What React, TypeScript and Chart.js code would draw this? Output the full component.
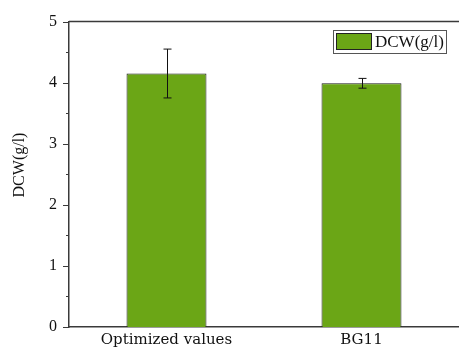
import React, { useEffect, useRef } from "react";
import { Chart, registerables } from "chart.js";

Chart.register(...registerables);

const categories = ["Optimized values", "BG11"];
const dcwValues = [4.15, 3.99];
const dcwErrors = [0.4, 0.08];
const seriesLabel = "DCW(g/l)";
const yTitle = "DCW(g/l)";

const BAR_GREEN = "#6ba616";
const AXIS_COLOR = "#3a3a3a";
const SERIF = "'DejaVu Serif', 'Liberation Serif', serif";
const NUM_SERIF = "'Liberation Serif', serif";

// Error bars, axis ticks (major + minor), top frame line, y title and boxed legend
const decorations = {
  id: "decorations",
  afterDatasetsDraw(chart: any) {
    const { ctx, chartArea } = chart;
    const x = chart.scales.x;
    const y = chart.scales.y;
    ctx.save();

    // error bars
    ctx.strokeStyle = "#111";
    ctx.lineWidth = 1;
    dcwValues.forEach((v, i) => {
      const cx = Math.round(x.getPixelForValue(i)) + 0.5;
      const top = y.getPixelForValue(v + dcwErrors[i]);
      const bot = y.getPixelForValue(v - dcwErrors[i]);
      ctx.beginPath();
      ctx.moveTo(cx, top);
      ctx.lineTo(cx, bot);
      ctx.moveTo(cx - 4, top);
      ctx.lineTo(cx + 4, top);
      ctx.moveTo(cx - 4, bot);
      ctx.lineTo(cx + 4, bot);
      ctx.stroke();
    });

    // top frame line
    ctx.strokeStyle = AXIS_COLOR;
    ctx.lineWidth = 1.5;
    ctx.beginPath();
    ctx.moveTo(chartArea.left, chartArea.top);
    ctx.lineTo(chartArea.right, chartArea.top);
    ctx.stroke();

    // y ticks: majors every 1, minors every 0.5
    ctx.lineWidth = 1;
    for (let t = 0; t <= 5.0001; t += 0.5) {
      const py = Math.round(y.getPixelForValue(t)) + 0.5;
      const major = Math.abs(t - Math.round(t)) < 1e-6;
      ctx.beginPath();
      ctx.moveTo(chartArea.left - (major ? 6 : 3), py);
      ctx.lineTo(chartArea.left, py);
      ctx.stroke();
    }

    // y axis title
    ctx.save();
    ctx.translate(20, 165);
    ctx.rotate(-Math.PI / 2);
    ctx.fillStyle = "#111";
    ctx.font = `16px ${NUM_SERIF}`;
    ctx.textAlign = "center";
    ctx.textBaseline = "middle";
    ctx.fillText(yTitle, 0, 0);
    ctx.restore();

    // legend box
    const bx = 333, by = 30, bw = 113, bh = 23;
    ctx.strokeStyle = "#555";
    ctx.lineWidth = 1;
    ctx.fillStyle = "#fff";
    ctx.fillRect(bx, by, bw, bh);
    ctx.strokeRect(bx + 0.5, by + 0.5, bw, bh);
    ctx.fillStyle = BAR_GREEN;
    ctx.fillRect(bx + 3, by + 3, 36, 17);
    ctx.strokeStyle = "#222";
    ctx.strokeRect(bx + 3.5, by + 3.5, 35, 16);
    ctx.fillStyle = "#111";
    ctx.font = `17px ${NUM_SERIF}`;
    ctx.textBaseline = "middle";
    ctx.textAlign = "left";
    ctx.fillText(seriesLabel, bx + 42, by + bh / 2 + 1);

    ctx.restore();
  },
};

export default function App() {
  const canvasRef = useRef<HTMLCanvasElement | null>(null);

  useEffect(() => {
    if (!canvasRef.current) return;
    const chart = new Chart(canvasRef.current, {
      type: "bar",
      data: {
        labels: categories,
        datasets: [
          {
            label: seriesLabel,
            data: dcwValues,
            backgroundColor: BAR_GREEN,
            borderColor: "#1a1a1a",
            borderWidth: 1,
            barPercentage: 0.41,
            categoryPercentage: 1,
          },
        ],
      },
      options: {
        animation: false,
        responsive: false,
        layout: { padding: { top: 21, right: 0, left: 0, bottom: 0 } },
        plugins: {
          legend: { display: false },
          tooltip: { enabled: false },
        },
        scales: {
          x: {
            grid: { display: false, drawTicks: false },
            border: { color: AXIS_COLOR, width: 1.5 },
            ticks: {
              color: "#111",
              font: { family: SERIF, size: 15 },
              padding: 4,
              maxRotation: 0,
            },
            afterFit(scale: any) {
              scale.height = 22;
            },
          },
          y: {
            min: 0,
            max: 5,
            grid: { display: false, drawTicks: false },
            border: { color: AXIS_COLOR, width: 1.5 },
            ticks: {
              stepSize: 1,
              color: "#111",
              font: { family: NUM_SERIF, size: 16 },
              padding: 12,
            },
            afterFit(scale: any) {
              scale.width = 69;
            },
          },
        },
      },
      plugins: [decorations],
    });
    return () => chart.destroy();
  }, []);

  return (
    <div style={{ position: "fixed", left: 0, top: 0, width: 459, height: 349, background: "#fff" }}>
      <canvas ref={canvasRef} width={459} height={349} />
    </div>
  );
}
